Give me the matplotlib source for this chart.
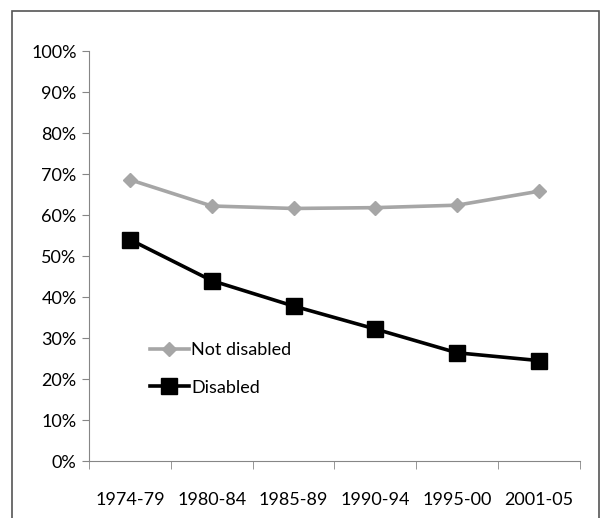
import matplotlib.pyplot as plt
import numpy as np
from matplotlib.patches import Rectangle

periods = ['1974-79', '1980-84', '1985-89', '1990-94', '1995-00', '2001-05']
not_disabled = [68.6, 62.2, 61.6, 61.8, 62.4, 65.8]
disabled = [54.0, 44.0, 37.8, 32.2, 26.4, 24.5]

plt.rcParams['font.family'] = ['Lato', 'DejaVu Sans']

fig = plt.figure(figsize=(6.02, 5.18), dpi=100)
ax = fig.add_axes([0.148, 0.110, 0.815, 0.7915])

x = np.arange(len(periods))
ax.plot(x, not_disabled, color='#a6a6a6', lw=2.6, marker='D', ms=7, label='Not disabled')
ax.plot(x, disabled, color='black', lw=2.6, marker='s', ms=11, label='Disabled')

ax.set_xlim(-0.5, len(periods) - 0.5)
ax.set_ylim(0, 100)
ax.set_yticks(range(0, 101, 10))
ax.set_yticklabels([f'{v}%' for v in range(0, 101, 10)], fontsize=13)
ax.set_xticks(x)
ax.set_xticklabels(periods, fontsize=13)
ax.set_xticks(np.arange(-0.5, len(periods)), minor=True)
ax.tick_params(axis='x', which='major', length=0, pad=22)
ax.tick_params(axis='x', which='minor', length=6, color='#868686')
ax.tick_params(axis='y', length=5, color='#868686', pad=4)
for s in ['top', 'right']:
    ax.spines[s].set_visible(False)
for s in ['left', 'bottom']:
    ax.spines[s].set_color('#868686')

ax.legend(loc='upper left', bbox_to_anchor=(0.09, 0.33), frameon=False, fontsize=13,
          handlelength=2.2, handletextpad=0.1, labelspacing=1.2)

fig.patches.append(Rectangle((0.02, -0.01), 0.975, 0.988, transform=fig.transFigure,
                             fill=False, edgecolor='#555555', lw=1.2))

fig.savefig('out.png', dpi=100)
